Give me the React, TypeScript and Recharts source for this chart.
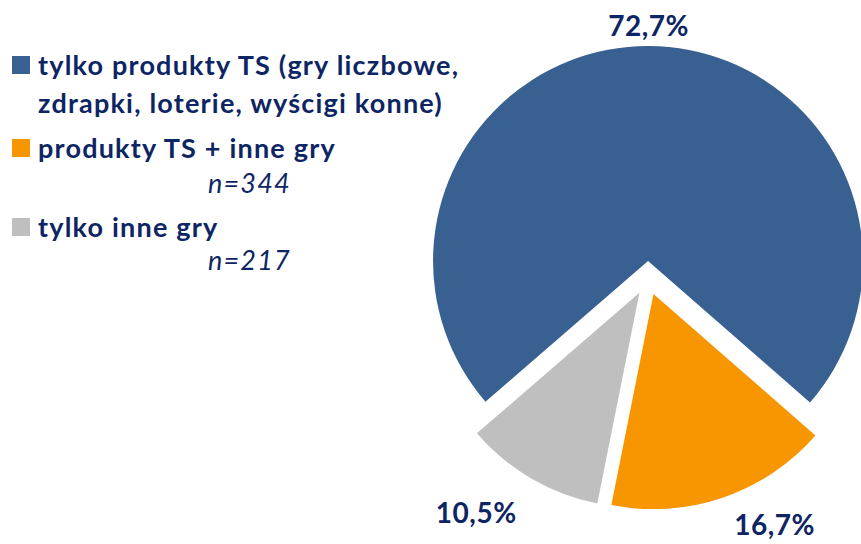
import React from "react";
import { PieChart, Pie, Cell } from "recharts";

const categories = [
  "tylko produkty TS (gry liczbowe, zdrapki, loterie, wyścigi konne)",
  "produkty TS + inne gry",
  "tylko inne gry",
];
const shares = [72.7, 16.7, 10.5];
const colors = ["#386192", "#F79600", "#BFBFBF"];
const sampleNotes = ["", "n=344", "n=217"];

const TEXT = "#0E2564";
const FONT = "Lato, 'Open Sans', sans-serif";

const W = 861;
const H = 544;
const CX = 648;
const CY = 278;
const R = 215;
const EXPLODE = 17;
const START = 220.86;

// label nudges (Excel moves the outside labels around a bit)
const labelShift = [0, 9, -6.5];
const labelGap = [21, 45, 58];

const data = categories.map((name, i) => ({ name, value: shares[i] }));
const total = shares.reduce((a, b) => a + b, 0);

function midAngles() {
  let a = START;
  return shares.map((v) => {
    const sweep = (v / total) * 360;
    const mid = a - sweep / 2;
    a -= sweep;
    return mid;
  });
}

const RAD = Math.PI / 180;

export default function App() {
  const mids = midAngles();

  const renderLabel = (target: number) => (props: any) => {
    const { cx, cy, midAngle, outerRadius, index } = props;
    if (index !== target) return null;
    const ang = midAngle + labelShift[index];
    const d = outerRadius + labelGap[index];
    const x = cx + d * Math.cos(ang * RAD);
    const y = cy - d * Math.sin(ang * RAD);
    return (
      <text
        x={x}
        y={y}
        textAnchor="middle"
        dominantBaseline="central"
        fill={TEXT}
        fontFamily={FONT}
        fontWeight={700}
        fontSize={28}
        letterSpacing={0.5}
      >
        {shares[index].toFixed(1).replace(".", ",")}%
      </text>
    );
  };

  const legendRows = [
    { y: 65, text: "tylko produkty TS (gry liczbowe,", square: 0 },
    { y: 103, text: "zdrapki, loterie, wyścigi konne)", square: -1 },
    { y: 148, text: categories[1], square: 1 },
    { y: 183, text: sampleNotes[1], square: -1, note: true },
    { y: 227, text: categories[2], square: 2 },
    { y: 260, text: sampleNotes[2], square: -1, note: true },
  ];

  return (
    <div style={{ position: "absolute", left: 0, top: 0, width: W, height: H, background: "#fff" }}>
      <PieChart width={W} height={H} margin={{ top: 0, right: 0, bottom: 0, left: 0 }}>
        {shares.map((_, k) => (
          <Pie
            key={k}
            data={data}
            dataKey="value"
            cx={CX + EXPLODE * Math.cos(mids[k] * RAD)}
            cy={CY - EXPLODE * Math.sin(mids[k] * RAD)}
            outerRadius={R}
            startAngle={START}
            endAngle={START - 360}
            stroke="none"
            label={renderLabel(k)}
            labelLine={false}
            isAnimationActive={false}
          >
            {data.map((_, i) => (
              <Cell key={i} fill={i === k ? colors[i] : "none"} />
            ))}
          </Pie>
        ))}
      </PieChart>

      {legendRows.map((row, i) => (
        <div
          key={i}
          style={{
            position: "absolute",
            left: row.note ? 208 : 38,
            top: row.y - 19,
            height: 38,
            lineHeight: "38px",
            fontFamily: FONT,
            fontSize: 27,
            letterSpacing: 1.2,
            fontWeight: row.note ? 400 : 700,
            fontStyle: row.note ? "italic" : "normal",
            color: TEXT,
            whiteSpace: "nowrap",
          }}
        >
          {row.text}
        </div>
      ))}
      {legendRows
        .filter((r) => r.square >= 0)
        .map((row) => (
          <div
            key={"sq" + row.square}
            style={{
              position: "absolute",
              left: 12,
              top: row.y - 9,
              width: 18,
              height: 18,
              background: colors[row.square],
            }}
          />
        ))}
    </div>
  );
}
